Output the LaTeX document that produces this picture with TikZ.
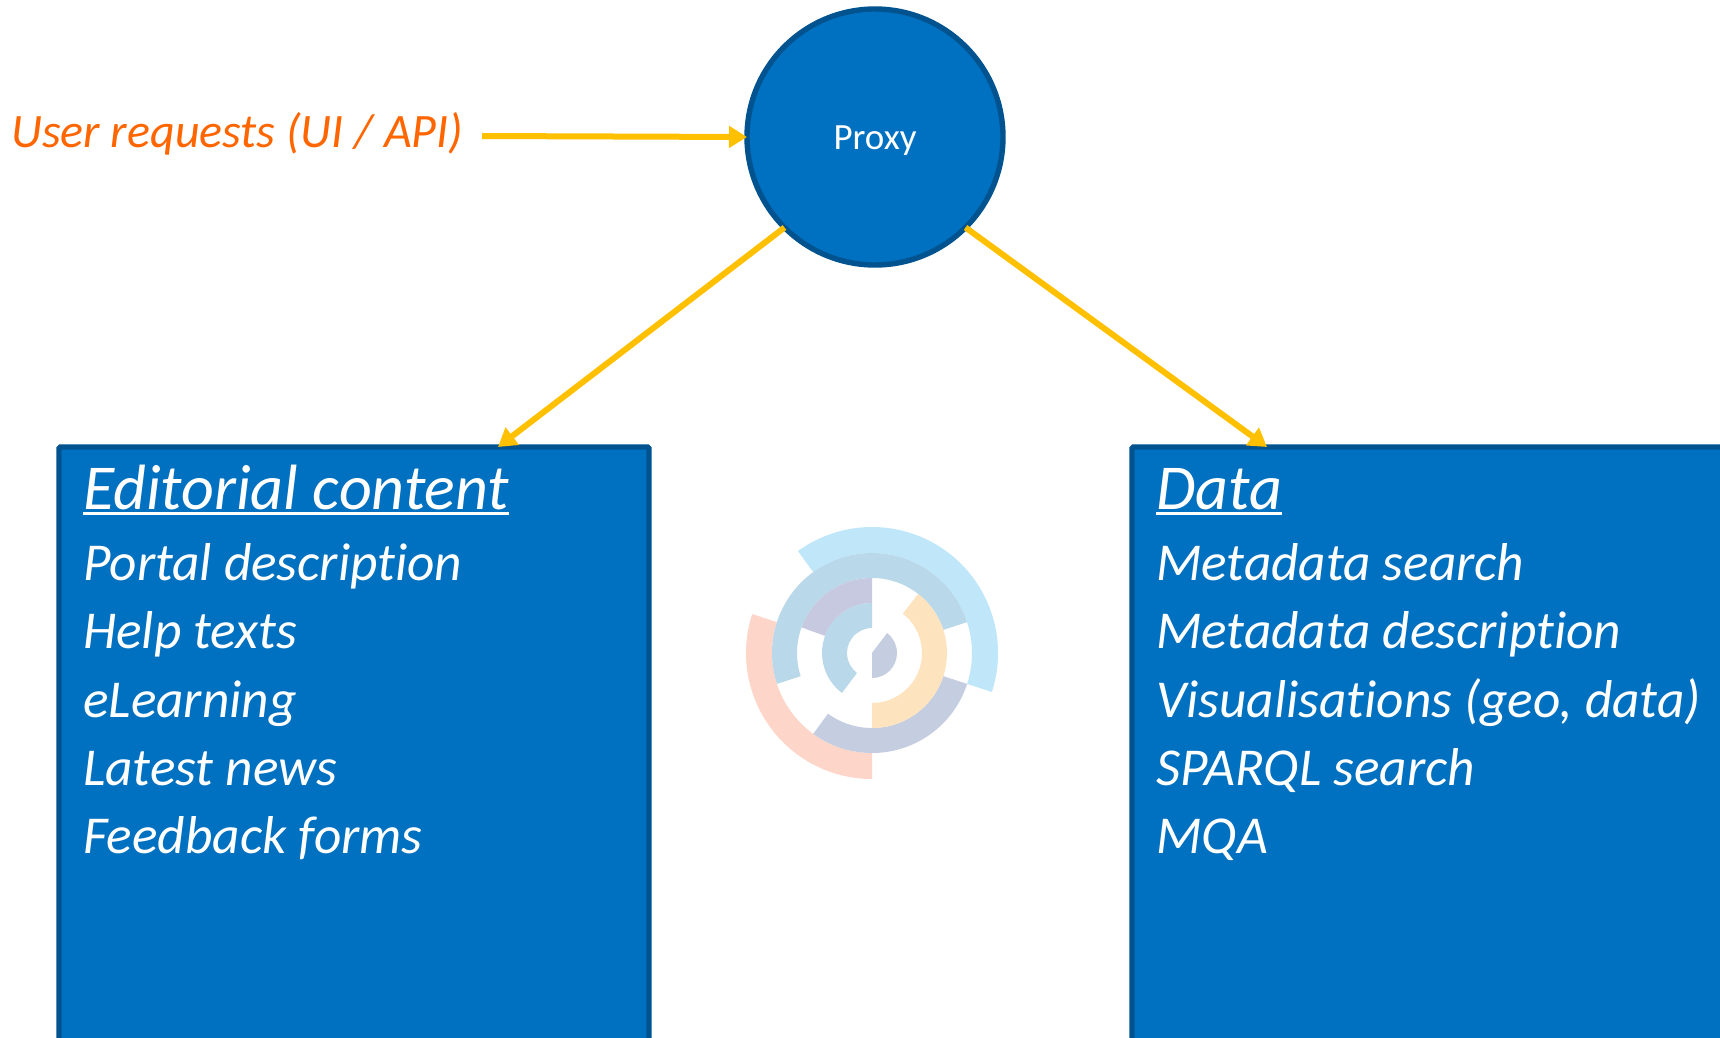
\documentclass[tikz,border=0pt]{standalone}
\usepackage{fontspec}
\setmainfont[Ligatures=NoCommon]{Carlito}
\usetikzlibrary{arrows.meta}
\definecolor{brandfill}{HTML}{0070C0}
\definecolor{brandline}{HTML}{00538F}
\definecolor{arrowgold}{HTML}{FFC000}
\definecolor{reqorange}{HTML}{FF6600}
\definecolor{logosky}{HTML}{BFE7F9}
\definecolor{logosteel}{HTML}{B9D8EA}
\definecolor{logosalmon}{HTML}{FDD6C9}
\definecolor{logogrey}{HTML}{C5CDE1}
\definecolor{logomauve}{HTML}{C6C9DF}
\definecolor{logopeach}{HTML}{FEE3BF}
\newcommand{\ringseg}[5]{\fill[#1] (#4:#3pt) arc[start angle=#4,end angle=#5,radius=#3pt] -- (#5:#2pt) arc[start angle=#5,end angle=#4,radius=#2pt] -- cycle;}
\newcommand{\ultitle}[1]{\setbox0=\hbox{#1}\rlap{\rule[-6pt]{\wd0}{3pt}}\box0}
\tikzset{
  x=1pt,y=1pt,
  panel/.style={draw=brandline,fill=brandfill,line width=5.4pt,rounded corners=1.5pt,anchor=north west,inner sep=0pt,outer sep=0pt},
  proxycircle/.style={circle,draw=brandline,fill=brandfill,line width=5.4pt,minimum size=256pt,inner sep=0pt,outer sep=0pt,text=white,font=\fontsize{37}{37}\selectfont},
  flow/.style={draw=arrowgold,line width=6pt,-{Triangle[length=18pt,width=21pt]}},
  headline/.style={anchor=base west,inner sep=0pt,text=white,font=\fontsize{64}{64}\selectfont\itshape},
  bodyline/.style={anchor=base west,inner sep=0pt,text=white,font=\fontsize{53.3}{54}\selectfont\itshape},
  reqlabel/.style={anchor=base west,inner sep=0pt,text=reqorange,font=\fontsize{48}{48}\selectfont\itshape}
}
\begin{document}
\begin{tikzpicture}
\useasboundingbox (0,-1037) rectangle (1720,0);
\clip (0,-1037) rectangle (1720,0);
\fill[white] (0,-1037) rectangle (1720,0);
% logo
\begin{scope}[shift={(872,-653)}]
\ringseg{logosky}{100}{126}{-18}{126}
\ringseg{logosalmon}{100}{126}{162}{270}
\ringseg{logosteel}{75}{100}{18}{198}
\ringseg{logogrey}{75}{100}{234}{342}
\ringseg{logomauve}{50}{75}{90}{160}
\ringseg{logopeach}{50}{75}{270}{412}
\ringseg{logosteel}{25}{50}{90}{233}
\fill[logogrey] (0,0) -- (270:25pt) arc[start angle=270,end angle=413,radius=25pt] -- cycle;
\end{scope}
% boxes
\node[panel,minimum width=590pt,minimum height=700pt] (boxL) at (59,-447) {};
\node[panel,minimum width=700pt,minimum height=700pt] (boxR) at (1132,-447) {};
\node[proxycircle] (proxy) at (875,-137) {\raisebox{-12pt}[0pt][0pt]{Proxy}};
% texts
\node[reqlabel] (req) at (11,-147.5) {User requests (UI / API)};
\node[headline] (t1) at (83,-509) {\ultitle{Editorial content}};
\node[bodyline] (l1) at (83,-580) {Portal description};
\node[bodyline] (l2) at (83,-648) {Help texts};
\node[bodyline] (l3) at (83,-717) {eLearning};
\node[bodyline] (l4) at (83,-785) {Latest news};
\node[bodyline] (l5) at (83,-853) {Feedback forms};
\node[headline] (t2) at (1156,-509) {\ultitle{Data}};
\node[bodyline] (r1) at (1156,-580) {Metadata search};
\node[bodyline] (r2) at (1156,-648) {Metadata description};
\node[bodyline] (r3) at (1156,-717) {Visualisations (geo, data)};
\node[bodyline] (r4) at (1156,-785) {SPARQL search};
\node[bodyline] (r5) at (1156,-853) {MQA};
% connectors
\coordinate (reqstart) at (482,-136);
\coordinate (leftin) at ([xshift=144pt]boxL.north);
\coordinate (rightin) at (1267,-447);
\draw[flow] (reqstart) -- (proxy.west);
\draw[flow] (proxy.south west) -- (leftin);
\draw[flow] (proxy.south east) -- (rightin);
\end{tikzpicture}
\end{document}
